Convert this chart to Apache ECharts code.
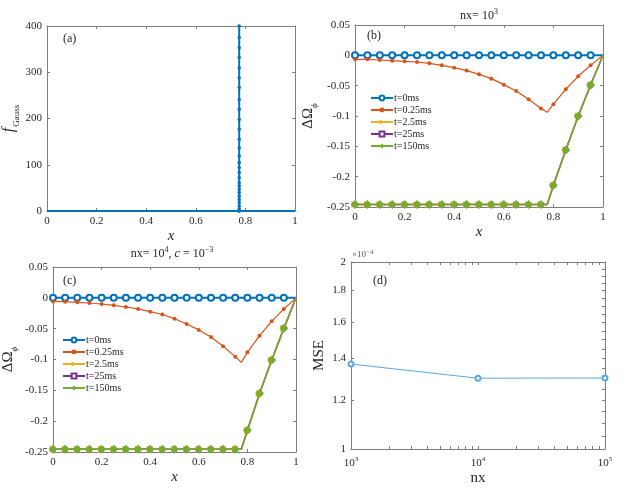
<!DOCTYPE html>
<html>
<head>
<meta charset="utf-8">
<script src="https://cdn.jsdelivr.net/npm/echarts@6/dist/echarts.min.js"></script>
<style>
html, body { margin: 0; padding: 0; background: #fff; }
#main { width: 636px; height: 488px; }
</style>
</head>
<body>
<div id="main"></div>
<script>
// ---- data ----
// (a) Gaussian source: flat zero line with a narrow spike at x = 0.775
var spikeX = 0.775;
var spikeHeights = [0, 4, 11, 18, 25, 32, 40, 47, 54, 61, 72, 83, 94, 105, 119, 137, 155, 177, 198, 220, 241, 267, 288, 310, 332, 353, 375, 400];

// (b), (c) x positions (markers every 0.05, kink point at 0.775)
var xPts = [0, 0.05, 0.1, 0.15, 0.2, 0.25, 0.3, 0.35, 0.4, 0.45, 0.5, 0.55, 0.6, 0.65, 0.7, 0.75, 0.775, 0.8, 0.85, 0.9, 0.95, 1];
var noMarkX = [0.775, 1];

var names = ['t=0ms', 't=0.25ms', 't=2.5ms', 't=25ms', 't=150ms'];

// (b) nx = 10^3
var b_t0 = [0, 0, 0, 0, 0, 0, 0, 0, 0, 0, 0, 0, 0, 0, 0, 0, 0, 0, 0, 0, 0, 0];
var b_t025 = [-0.0066, -0.0066, -0.0077, -0.0088, -0.0099, -0.011, -0.0132, -0.0165, -0.0203, -0.0252, -0.0313, -0.0384, -0.0483, -0.0587, -0.0724, -0.0877, -0.094, -0.0806, -0.0559, -0.0346, -0.0165, 0];
var b_t25 = [-0.246, -0.246, -0.246, -0.246, -0.246, -0.246, -0.246, -0.246, -0.246, -0.246, -0.246, -0.246, -0.246, -0.246, -0.246, -0.246, -0.246, -0.214, -0.156, -0.1, -0.049, 0];
var b_t250 = b_t25;
var b_t150 = b_t25;

// (c) nx = 10^4, c = 10^-3
var c_t0 = [0, 0, 0, 0, 0, 0, 0, 0, 0, 0, 0, 0, 0, 0, 0, 0, 0, 0, 0, 0, 0, 0];
var c_t025 = [-0.0059, -0.0062, -0.0073, -0.0084, -0.01, -0.0122, -0.0149, -0.018, -0.0224, -0.027, -0.0338, -0.0424, -0.052, -0.0635, -0.0786, -0.0954, -0.1046, -0.0884, -0.0614, -0.0381, -0.018, 0];
var c_t25 = [-0.2457, -0.2457, -0.2457, -0.2457, -0.2457, -0.2457, -0.2457, -0.2457, -0.2457, -0.2457, -0.2457, -0.2457, -0.2457, -0.2457, -0.2457, -0.2457, -0.2457, -0.2149, -0.155, -0.1008, -0.0495, 0];
var c_t250 = c_t25;
var c_t150 = c_t25;

// (d) MSE vs nx (log-log)
var nxVals = [1000, 10000, 100000];
var mseVals = [1.37e-4, 1.30e-4, 1.301e-4];

// tick values
var dXTicks = [1000, 2000, 3000, 4000, 5000, 6000, 7000, 8000, 9000, 10000, 20000, 30000, 40000, 50000, 60000, 70000, 80000, 90000, 100000];
var dYLabels = [1e-4, 1.2e-4, 1.4e-4, 1.6e-4, 1.8e-4, 2e-4];
var dYTicksRight = [1e-4, 1.05e-4, 1.1e-4, 1.15e-4, 1.2e-4, 1.25e-4, 1.3e-4, 1.35e-4, 1.4e-4, 1.45e-4, 1.5e-4, 1.55e-4, 1.6e-4, 1.65e-4, 1.7e-4, 1.75e-4, 1.8e-4, 1.85e-4, 1.9e-4, 1.95e-4, 2e-4];

// ---- styling ----
var serif = '"Liberation Serif", "Times New Roman", serif';
var axisCol = '#7d7d7d';
var labCol = '#262626';
var colors = ['#0072BD', '#D95319', '#EDB120', '#7E2F8E', '#77AC30'];

var myChart = echarts.init(document.getElementById('main'));

function roundFmt(v) {
	return parseFloat(v.toFixed(3)).toString();
}

function baseAxis(grid, pos, showLabel) {
	return {
		gridIndex: grid,
		position: pos,
		axisLine: { show: true, onZero: false, lineStyle: { color: axisCol, width: 1 } },
		axisTick: { show: true, inside: true, length: 3, lineStyle: { color: axisCol } },
		axisLabel: { show: showLabel, color: labCol, fontFamily: serif, fontSize: 11, margin: 5, formatter: roundFmt },
		splitLine: { show: false }
	};
}

function linX(grid, pos, showLabel) {
	var a = baseAxis(grid, pos, showLabel);
	a.type = 'value';
	a.min = 0;
	a.max = 1;
	a.interval = 0.2;
	if (showLabel) {
		a.name = 'x';
		a.nameLocation = 'middle';
		a.nameGap = 18;
		a.nameTextStyle = { fontFamily: serif, fontStyle: 'italic', fontSize: 15, color: labCol };
	}
	return a;
}

function linY(grid, pos, showLabel, min, max, step) {
	var a = baseAxis(grid, pos, showLabel);
	a.type = 'value';
	a.min = min;
	a.max = max;
	a.interval = step;
	return a;
}

var dOmegaName = {
	name: '{d|ΔΩ}{p|ϕ}',
	nameLocation: 'middle',
	nameRotate: 90,
	nameTextStyle: {
		color: labCol,
		rich: {
			d: { fontFamily: serif, fontSize: 15, color: labCol, padding: [0, 0, 3, 0], verticalAlign: 'bottom' },
			p: { fontFamily: serif, fontStyle: 'italic', fontSize: 9, color: labCol, verticalAlign: 'bottom' }
		}
	}
};

// x axes
var xAxes = [
	linX(0, 'bottom', true), linX(0, 'top', false),
	linX(1, 'bottom', true), linX(1, 'top', false),
	linX(2, 'bottom', true), linX(2, 'top', false)
];
var dxb = baseAxis(3, 'bottom', true);
dxb.type = 'log';
dxb.logBase = 10;
dxb.min = 1000;
dxb.max = 100000;
dxb.axisTick.customValues = dXTicks;
dxb.axisLabel.customValues = nxVals;
dxb.axisLabel.margin = 7;
dxb.axisLabel.formatter = function(v) {
	return '{b|10}{s|' + Math.round(Math.log(v) / Math.LN10) + '}';
};
dxb.axisLabel.rich = {
	b: { fontFamily: serif, fontSize: 11, color: labCol, verticalAlign: 'bottom' },
	s: { fontFamily: serif, fontSize: 7, color: labCol, padding: [0, 0, 6, 0], verticalAlign: 'bottom' }
};
dxb.name = 'nx';
dxb.nameLocation = 'middle';
dxb.nameGap = 22;
dxb.nameTextStyle = { fontFamily: serif, fontSize: 15, color: labCol };
var dxt = baseAxis(3, 'top', false);
dxt.type = 'log';
dxt.logBase = 10;
dxt.min = 1000;
dxt.max = 100000;
dxt.axisTick.customValues = dXTicks;
xAxes.push(dxb, dxt);

// y axes
var ya = linY(0, 'left', true, 0, 400, 100);
ya.name = '{f|f}{g|Gauss}';
ya.nameLocation = 'middle';
ya.nameRotate = 90;
ya.nameGap = 26;
ya.nameTextStyle = {
	color: labCol,
	rich: {
		f: { fontFamily: serif, fontStyle: 'italic', fontSize: 16, color: labCol, padding: [0, 1, 4, 0], verticalAlign: 'bottom' },
		g: { fontFamily: serif, fontSize: 9, color: labCol, verticalAlign: 'bottom' }
	}
};
var yb = Object.assign(linY(1, 'left', true, -0.25, 0.05, 0.05), dOmegaName, { nameGap: 36 });
var yc = Object.assign(linY(2, 'left', true, -0.25, 0.05, 0.05), dOmegaName, { nameGap: 34 });

var ydl = baseAxis(3, 'left', true);
ydl.type = 'log';
ydl.logBase = 10;
ydl.min = 1e-4;
ydl.max = 2e-4;
ydl.axisTick.customValues = dYLabels;
ydl.axisLabel.customValues = dYLabels;
ydl.axisLabel.formatter = function(v) {
	return parseFloat((v * 1e4).toFixed(2)).toString();
};
ydl.name = 'MSE';
ydl.nameLocation = 'middle';
ydl.nameRotate = 90;
ydl.nameGap = 24;
ydl.nameTextStyle = { fontFamily: serif, fontSize: 15, color: labCol };
var ydr = baseAxis(3, 'right', false);
ydr.type = 'log';
ydr.logBase = 10;
ydr.min = 1e-4;
ydr.max = 2e-4;
ydr.axisTick.customValues = dYTicksRight;

var yAxes = [
	ya, linY(0, 'right', false, 0, 400, 100),
	yb, linY(1, 'right', false, -0.25, 0.05, 0.05),
	yc, linY(2, 'right', false, -0.25, 0.05, 0.05),
	ydl, ydr
];

// ---- series ----
function curveData(vals) {
	return xPts.map(function(x, i) {
		var d = { value: [x, vals[i]] };
		if (noMarkX.indexOf(x) >= 0) d.symbol = 'none';
		return d;
	});
}

var markerStyles = [
	{ symbol: 'emptyCircle', symbolSize: 6, lineWidth: 2 },
	{ symbol: 'circle', symbolSize: 4, lineWidth: 1.2 },
	{ symbol: 'triangle', symbolSize: 7, symbolRotate: -90, lineWidth: 1.5 },
	{ symbol: 'emptyRect', symbolSize: 3, lineWidth: 1.5 },
	{ symbol: 'diamond', symbolSize: 9, lineWidth: 1.5 }
];

function panelSeries(grid, sets) {
	return sets.map(function(vals, k) {
		var m = markerStyles[k];
		return {
			name: names[k],
			type: 'line',
			xAxisIndex: grid * 2,
			yAxisIndex: grid * 2,
			data: curveData(vals),
			symbol: m.symbol,
			symbolSize: m.symbolSize,
			symbolRotate: m.symbolRotate || 0,
			showAllSymbol: true,
			color: colors[k],
			lineStyle: { width: m.lineWidth, color: colors[k] },
			itemStyle: { color: colors[k], borderWidth: 1.2 },
			z: 2 + k
		};
	});
}

// (a) data: zero line, spike up and back down, zero line
var gaussData = [{ value: [0, 0], symbol: 'none' }];
spikeHeights.forEach(function(h) { gaussData.push({ value: [spikeX, h] }); });
gaussData.push({ value: [spikeX, 0] });
gaussData.push({ value: [1, 0], symbol: 'none' });

var series = [{
	name: 'fGauss',
	type: 'line',
	xAxisIndex: 0,
	yAxisIndex: 0,
	data: gaussData,
	symbol: 'circle',
	symbolSize: 3.5,
	showAllSymbol: true,
	color: colors[0],
	lineStyle: { width: 2, color: colors[0] }
}];
series = series.concat(panelSeries(1, [b_t0, b_t025, b_t250, b_t25, b_t150]));
series = series.concat(panelSeries(2, [c_t0, c_t025, c_t250, c_t25, c_t150]));
series.push({
	name: 'MSE',
	type: 'line',
	xAxisIndex: 6,
	yAxisIndex: 6,
	data: nxVals.map(function(n, i) { return [n, mseVals[i]]; }),
	symbol: 'emptyCircle',
	symbolSize: 5,
	color: '#5aa9e0',
	lineStyle: { width: 1, color: '#5aa9e0' },
	itemStyle: { color: '#5aa9e0', borderWidth: 1 }
});

function legendAt(left, top) {
	return {
		data: names,
		orient: 'vertical',
		left: left,
		top: top,
		itemWidth: 22,
		itemHeight: 6,
		itemGap: 2,
		selectedMode: false,
		textStyle: { fontFamily: serif, fontSize: 10, color: labCol, lineHeight: 10, padding: [0, 0, 0, -4] }
	};
}

var richTitle = {
	n: { fontFamily: serif, fontSize: 12, fill: labCol, verticalAlign: 'bottom' },
	i: { fontFamily: serif, fontStyle: 'italic', fontSize: 12, fill: labCol, verticalAlign: 'bottom' },
	s: { fontFamily: serif, fontSize: 8, fill: labCol, padding: [0, 0, 6, 0], verticalAlign: 'bottom' }
};

function label(txt, x, y) {
	return { type: 'text', x: x, y: y, style: { text: txt, fontFamily: serif, fontSize: 12, fill: labCol, align: 'left', verticalAlign: 'middle' } };
}

var option = {
	animation: false,
	backgroundColor: '#fff',
	grid: [
		{ left: 41, top: 26, width: 254, height: 185 },
		{ left: 355, top: 25, width: 248, height: 182 },
		{ left: 48, top: 267, width: 248, height: 185 },
		{ left: 351, top: 262, width: 254, height: 187 }
	],
	xAxis: xAxes,
	yAxis: yAxes,
	legend: [legendAt(365, 88), legendAt(57, 330)],
	series: series,
	graphic: [
		label('(a)', 63, 39),
		label('(b)', 367, 36),
		label('(c)', 63, 281),
		label('(d)', 373, 281),
		{ type: 'text', x: 479, y: 15, style: { text: '{n|nx= 10}{s|3}', rich: richTitle, align: 'center', verticalAlign: 'middle' } },
		{ type: 'text', x: 172, y: 253, style: { text: '{n|nx= 10}{s|4}{n|, }{i|c}{n| = 10}{s|−3}', rich: richTitle, align: 'center', verticalAlign: 'middle' } },
		{ type: 'text', x: 352, y: 254, style: {
			text: '{n|×10}{s|−4}', align: 'left', verticalAlign: 'middle',
			rich: {
				n: { fontFamily: serif, fontSize: 9, fill: '#555', verticalAlign: 'bottom' },
				s: { fontFamily: serif, fontSize: 7, fill: '#555', padding: [0, 0, 4, 0], verticalAlign: 'bottom' }
			}
		} }
	]
};

myChart.setOption(option);
</script>
</body>
</html>
